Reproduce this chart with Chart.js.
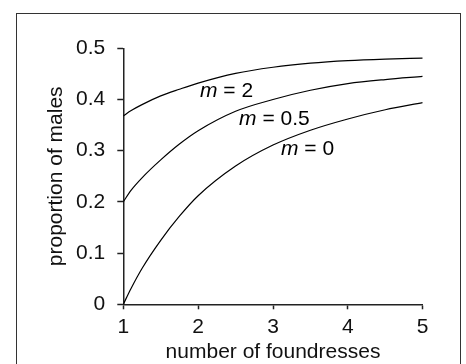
<!DOCTYPE html>
<html>
<head>
<meta charset="utf-8">
<script src="https://cdn.jsdelivr.net/npm/chart.js@4/dist/chart.umd.min.js"></script>
<style>
    html, body { margin: 0; padding: 0; background: #fff; }
    #wrap { position: relative; width: 466px; height: 364px; overflow: hidden; }
    #frame {
        position: absolute;
        left: 16px;
        top: 13px;
        width: 443px;
        height: 400px;
        border: 1px solid #333;
    }
    canvas { position: absolute; left: 0; top: 0; }
</style>
</head>
<body>
<div id="wrap">
    <div id="frame"></div>
    <canvas id="chart" width="466" height="364"></canvas>
</div>
<script>
// number of foundresses
const foundresses = [1, 1.1, 1.25, 1.5, 1.75, 2, 2.5, 3, 3.5, 4, 4.5, 5];
// proportion of males for each m
const males_m0 = [0, 0.03, 0.07, 0.125, 0.172, 0.212, 0.27, 0.311, 0.34, 0.362, 0.38, 0.394];
const males_m05 = [0.2, 0.222, 0.247, 0.282, 0.313, 0.339, 0.377, 0.4, 0.418, 0.431, 0.439, 0.445];
const males_m2 = [0.368, 0.378, 0.39, 0.407, 0.42, 0.432, 0.451, 0.463, 0.471, 0.476, 0.479, 0.481];
const xTicks = [1, 2, 3, 4, 5];
const yTicks = [0, 0.1, 0.2, 0.3, 0.4, 0.5];
// curve labels: text after the italic m, and where the label starts (data units)
const curveLabels = ["= 2", "= 0.5", "= 0"];
const labelX = [2.025, 2.547, 3.107];
const labelY = [0.417, 0.362, 0.303];

const FONT = "'Liberation Sans', Arial, sans-serif";
const SIZE = 21;

const pts = (ys) => foundresses.map((x, i) => ({ x, y: ys[i] }));

const lineSet = (label, ys) => ({
    label,
    data: pts(ys),
    borderColor: "#000",
    borderWidth: 1.2,
    pointRadius: 0,
    fill: false,
    cubicInterpolationMode: "monotone",
});

const curveLabelPlugin = {
    id: "curveLabels",
    afterDatasetsDraw(chart) {
        const { ctx, scales: { x, y } } = chart;
        ctx.save();
        ctx.fillStyle = "#000";
        ctx.textBaseline = "middle";
        ctx.textAlign = "left";
        curveLabels.forEach((t, i) => {
            const px = x.getPixelForValue(labelX[i]);
            const py = y.getPixelForValue(labelY[i]);
            ctx.font = "italic " + SIZE + "px " + FONT;
            ctx.fillText("m", px, py);
            const w = ctx.measureText("m ").width;
            ctx.font = SIZE + "px " + FONT;
            ctx.fillText(t, px + w, py);
        });
        ctx.restore();
    },
};

const ctx = document.getElementById("chart");
new Chart(ctx, {
    type: "line",
    data: {
        datasets: [
            lineSet("m = 0", males_m0),
            lineSet("m = 0.5", males_m05),
            lineSet("m = 2", males_m2),
        ],
    },
    plugins: [curveLabelPlugin],
    options: {
        responsive: false,
        animation: false,
        layout: {
            padding: { left: 0, right: 43.3, top: 48.3, bottom: 0 },
        },
        plugins: {
            legend: { display: false },
            tooltip: { enabled: false },
        },
        scales: {
            x: {
                type: "linear",
                min: 1,
                max: 5,
                afterFit: (s) => { s.height = 59.7; },
                afterBuildTicks: (s) => { s.ticks = xTicks.map((v) => ({ value: v })); },
                border: { display: true, color: "#222", width: 1.5 },
                grid: {
                    display: true,
                    drawOnChartArea: false,
                    drawTicks: true,
                    tickLength: 5,
                    tickWidth: 1.5,
                    tickColor: "#222",
                },
                ticks: {
                    color: "#111",
                    padding: 5,
                    maxRotation: 0,
                    font: { family: FONT, size: SIZE },
                },
                title: {
                    display: true,
                    text: "number of foundresses",
                    color: "#111",
                    padding: { top: 0, bottom: -1 },
                    font: { family: FONT, size: SIZE },
                },
            },
            y: {
                type: "linear",
                min: 0,
                max: 0.5,
                afterFit: (s) => { s.width = 123.3; },
                afterBuildTicks: (s) => { s.ticks = yTicks.map((v) => ({ value: v })); },
                border: { display: true, color: "#222", width: 1.5 },
                grid: {
                    display: true,
                    drawOnChartArea: false,
                    drawTicks: true,
                    tickLength: 6,
                    tickWidth: 1.5,
                    tickColor: "#222",
                },
                ticks: {
                    color: "#111",
                    padding: 12,
                    font: { family: FONT, size: SIZE },
                    callback: (v) => String(v),
                },
                title: {
                    display: true,
                    text: "proportion of males",
                    color: "#111",
                    padding: { top: 44, bottom: 0 },
                    font: { family: FONT, size: SIZE },
                },
            },
        },
    },
});
</script>
</body>
</html>
